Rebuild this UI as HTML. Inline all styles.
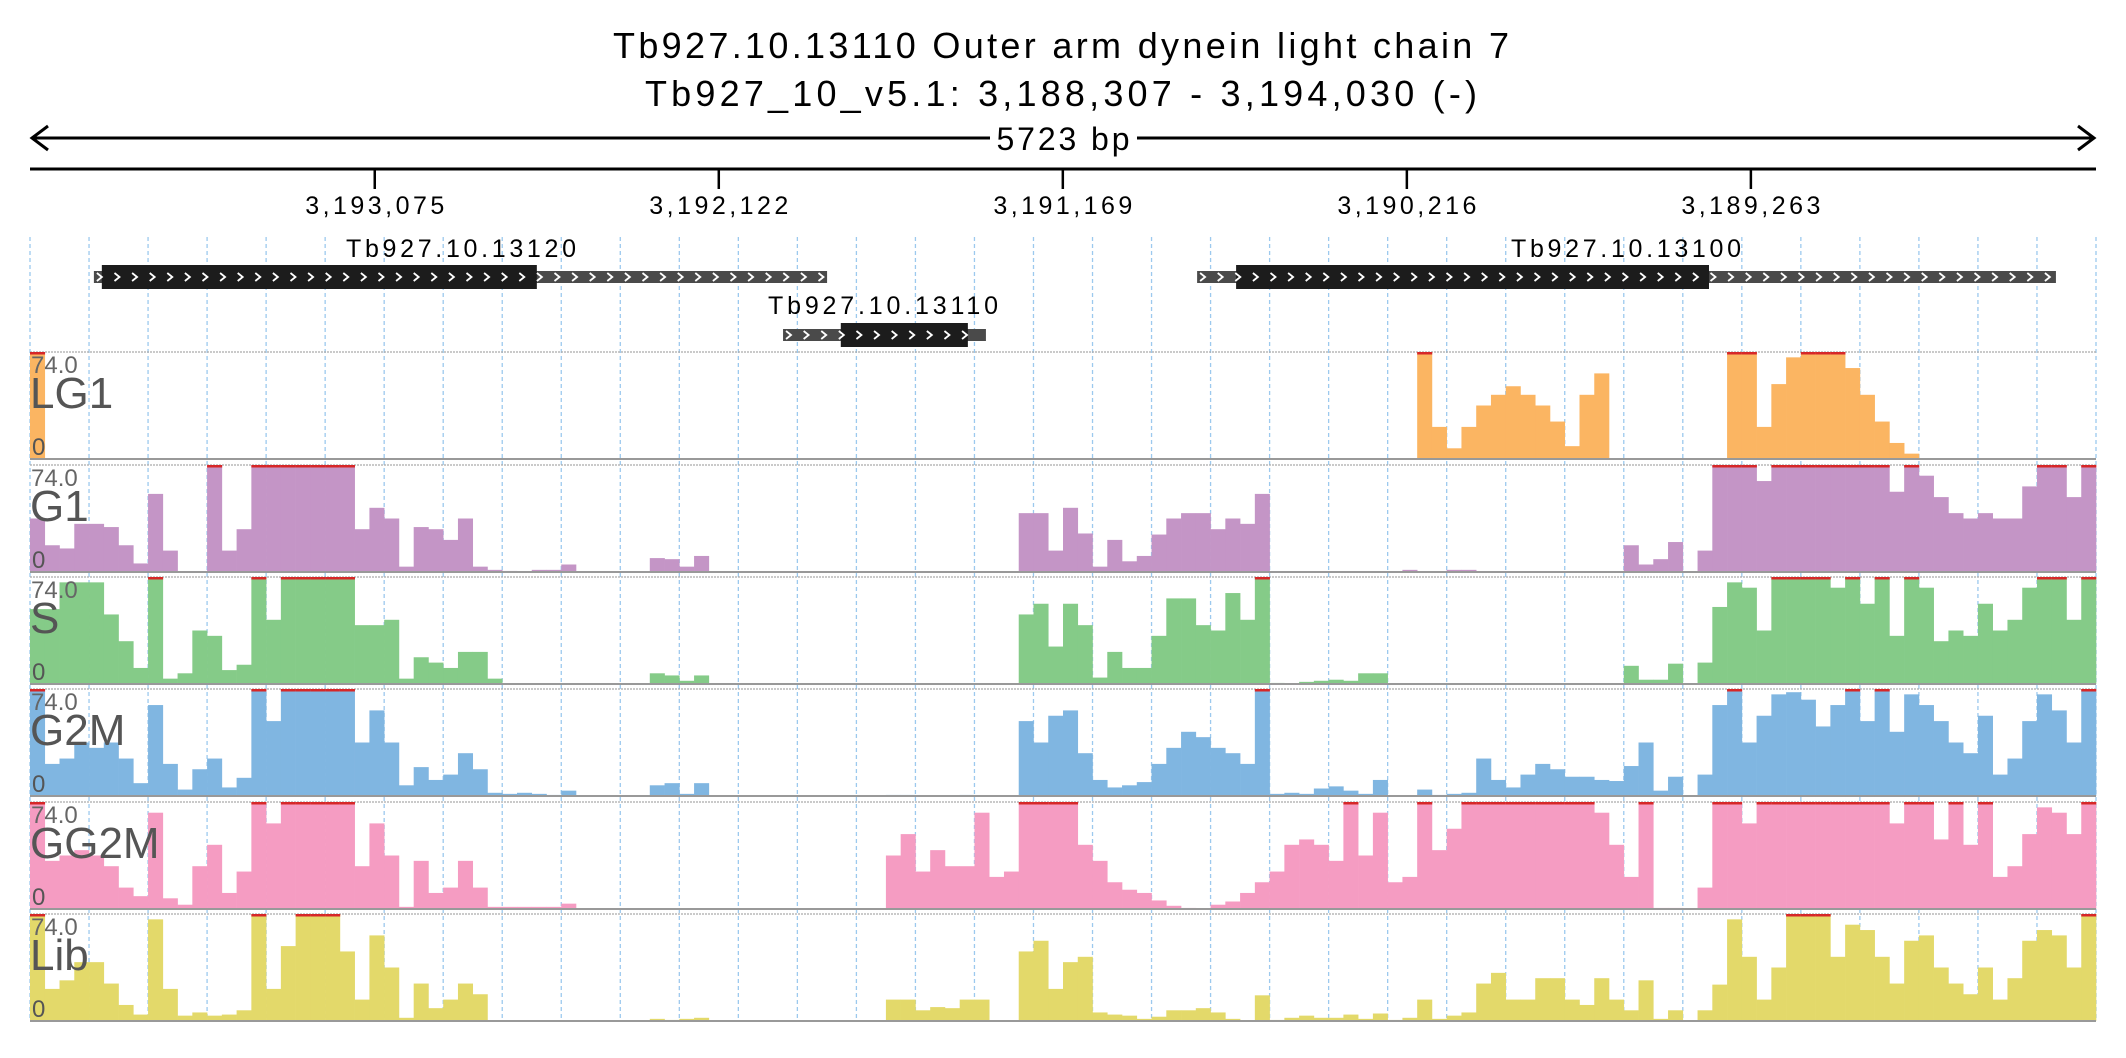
<!DOCTYPE html>
<html><head><meta charset="utf-8"><style>
html,body{margin:0;padding:0;background:#fff;}
svg{display:block;font-family:"Liberation Sans",sans-serif;}
</style></head><body>
<svg id="chart" width="2126" height="1058" viewBox="0 0 2126 1058">
<text x="1061" y="58" font-size="36" text-anchor="middle" textLength="896">Tb927.10.13110  Outer arm dynein light chain 7</text>
<text x="1061" y="106" font-size="36" text-anchor="middle" textLength="832">Tb927_10_v5.1: 3,188,307 - 3,194,030 (-)</text>
<g>
<line x1="32" y1="138" x2="990" y2="138" stroke="#000" stroke-width="3"/>
<line x1="1137" y1="138" x2="2094" y2="138" stroke="#000" stroke-width="3"/>
<polyline points="48,126 32,138 48,150" fill="none" stroke="#000" stroke-width="3"/>
<polyline points="2078,126 2094,138 2078,150" fill="none" stroke="#000" stroke-width="3"/>
<text x="1063" y="150" font-size="32" text-anchor="middle" textLength="133">5723 bp</text>
</g>
<line x1="30" y1="169" x2="2096" y2="169" stroke="#000" stroke-width="3"/>
<g id="ticks"></g>
<g id="grid"></g>
<g id="genes"></g>
<g id="tracks"></g>
</svg>
<script>
const startBp = 3194030;
const spanBp = 5723;
const tickValues = [3193075, 3192122, 3191169, 3190216, 3189263];
const tickLabels = ["3,193,075", "3,192,122", "3,191,169", "3,190,216", "3,189,263"];
const geneNames = ["Tb927.10.13120", "Tb927.10.13110", "Tb927.10.13100"];
const geneStart = [3193853, 3191944, 3190797];
const geneEnd = [3191822, 3191382, 3188418];
const cdsStart = [3193831, 3191784, 3190689];
const cdsEnd = [3192626, 3191432, 3189379];
const geneRow = [0, 1, 0];
const trackNames = ["LG1", "G1", "S", "G2M", "GG2M", "Lib"];
const yMaxLabel = "74.0";
const lg1 = [1,0,0,0, 0,0,0,0, 0,0,0,0, 0,0,0,0, 0,0,0,0, 0,0,0,0, 0,0,0,0, 0,0,0,0, 0,0,0,0, 0,0,0,0, 0,0,0,0, 0,0,0,0,
 0,0,0,0, 0,0,0,0, 0,0,0,0, 0,0,0,0, 0,0,0,0, 0,0,0,0, 0,0,0,0, 0,0,0,0, 0,0,0,0, 0,0,0,0, 0,0,0,0, 0,0,1,0.3,
 0.1,0.3,0.5,0.6, 0.68,0.6,0.5,0.35, 0.12,0.6,0.8,0, 0,0,0,0, 0,0,0,1, 1,0.3,0.7,0.95, 1,1,1,0.85, 0.6,0.35,0.15,0.05, 0,0,0,0, 0,0,0,0, 0,0,0,0];
const g1 = [0.5,0.25,0.22,0.45, 0.45,0.42,0.25,0.08, 0.73,0.2,0,0, 1,0.2,0.4,1, 1,1,1,1, 1,1,0.4,0.6, 0.5,0.05,0.42,0.4, 0.3,0.5,0.05,0.02,
 0.01,0,0.02,0.02, 0.07,0,0,0, 0,0,0.13,0.12, 0.05,0.15,0,0, 0,0,0,0, 0,0,0,0, 0,0,0,0, 0,0,0,0, 0,0,0,0.55, 0.55,0.2,0.6,0.36,
 0.05,0.3,0.1,0.15, 0.35,0.5,0.55,0.55, 0.4,0.5,0.45,0.73, 0,0,0,0, 0,0,0,0, 0,0.02,0,0, 0.02,0.02,0,0, 0,0,0,0, 0,0,0,0,
 0.25,0.07,0.12,0.28, 0,0.2,1,1, 1,0.85,1,1, 1,1,1,1, 1,1,0.75,1, 0.9,0.7,0.55,0.5, 0.55,0.5,0.5,0.8, 1,1,0.7,1];
const sPhase = [0.7,0.7,0.95,0.95, 0.95,0.65,0.4,0.15, 1,0.05,0.1,0.5, 0.45,0.13,0.18,1, 0.6,1,1,1, 1,1,0.55,0.55, 0.6,0.05,0.25,0.2, 0.15,0.3,0.3,0.05,
 0,0,0,0, 0,0,0,0, 0,0,0.1,0.08, 0.03,0.08,0,0, 0,0,0,0, 0,0,0,0, 0,0,0,0, 0,0,0,0, 0,0,0,0.65, 0.75,0.35,0.75,0.55,
 0.06,0.3,0.15,0.15, 0.45,0.8,0.8,0.55, 0.5,0.85,0.6,1, 0.01,0,0.02,0.03, 0.04,0.03,0.1,0.1, 0,0,0,0, 0,0,0,0, 0,0,0,0, 0,0,0,0,
 0.17,0.04,0.04,0.19, 0,0.2,0.72,0.95, 0.9,0.5,1,1, 1,1,0.9,1, 0.75,1,0.45,1, 0.9,0.4,0.5,0.45, 0.75,0.5,0.6,0.9, 1,1,0.6,1];
const g2m = [1,0.3,0.35,0.5, 0.45,0.5,0.35,0.12, 0.85,0.3,0.06,0.25, 0.35,0.08,0.17,1, 0.7,1,1,1, 1,1,0.5,0.8, 0.5,0.1,0.27,0.15, 0.2,0.4,0.25,0.03,
 0.02,0.03,0.02,0.01, 0.05,0,0,0, 0,0,0.1,0.12, 0.02,0.12,0,0, 0,0,0,0, 0,0,0,0, 0,0,0.01,0.01, 0,0,0,0.01, 0,0,0,0.7, 0.5,0.75,0.8,0.4,
 0.15,0.08,0.1,0.13, 0.3,0.45,0.6,0.55, 0.45,0.4,0.3,1, 0.02,0.03,0.02,0.07, 0.09,0.05,0.02,0.15, 0,0,0.06,0.01, 0.02,0.03,0.35,0.15, 0.08,0.2,0.3,0.25, 0.18,0.18,0.15,0.14,
 0.28,0.5,0.05,0.18, 0,0.2,0.85,1, 0.5,0.75,0.95,0.97, 0.9,0.65,0.85,1, 0.7,1,0.6,0.95, 0.85,0.7,0.5,0.4, 0.75,0.2,0.35,0.7, 0.95,0.8,0.5,1];
const gg2m = [1,0.45,0.5,0.55, 0.5,0.4,0.2,0.12, 0.9,0.1,0.04,0.4, 0.6,0.15,0.35,1, 0.8,1,1,1, 1,1,0.4,0.8, 0.5,0.02,0.45,0.15, 0.2,0.45,0.2,0.02,
 0.02,0.02,0.02,0.02, 0.05,0,0,0, 0,0,0,0, 0,0,0,0, 0,0,0,0, 0,0,0,0, 0,0,0.5,0.7, 0.35,0.55,0.4,0.4, 0.9,0.3,0.35,1, 1,1,1,0.6,
 0.45,0.25,0.18,0.15, 0.08,0.03,0.01,0, 0.04,0.07,0.15,0.25, 0.35,0.6,0.65,0.6, 0.45,1,0.5,0.9, 0.25,0.3,1,0.55, 0.75,1,1,1, 1,1,1,1, 1,1,0.9,0.6,
 0.3,1,0.01,0.01, 0,0.2,1,1, 0.8,1,1,1, 1,1,1,1, 1,1,0.8,1, 1,0.65,1,0.6, 1,0.3,0.4,0.7, 0.95,0.9,0.7,1];
const lib = [1,0.3,0.38,0.55, 0.55,0.35,0.15,0.06, 0.95,0.3,0.05,0.08, 0.05,0.06,0.1,1, 0.3,0.7,1,1, 1,0.65,0.2,0.8, 0.5,0.03,0.35,0.12, 0.2,0.35,0.25,0,
 0,0,0,0, 0,0,0,0, 0,0,0.02,0.01, 0.02,0.03,0,0, 0,0,0,0, 0,0,0,0, 0,0,0.2,0.2, 0.1,0.13,0.12,0.2, 0.2,0,0,0.65, 0.75,0.3,0.55,0.6,
 0.08,0.06,0.05,0.02, 0.04,0.1,0.1,0.12, 0.08,0.02,0,0.24, 0.01,0.03,0.05,0.03, 0.03,0.06,0.02,0.07, 0.01,0.03,0.2,0.02, 0.05,0.08,0.35,0.45, 0.2,0.2,0.4,0.4, 0.2,0.15,0.4,0.2,
 0.1,0.38,0.02,0.1, 0,0.1,0.34,0.95, 0.6,0.2,0.5,1, 1,1,0.6,0.9, 0.85,0.6,0.35,0.75, 0.8,0.5,0.35,0.25, 0.5,0.2,0.4,0.75, 0.85,0.8,0.5,1];

const NS = "http://www.w3.org/2000/svg";
const X0 = 30, X1 = 2096;
const NBINS = 140;
function xScale(bp){ return X0 + (startBp - bp) / spanBp * (X1 - X0); }
function mk(tag, attrs, parent){ const e = document.createElementNS(NS, tag); for (const k in attrs) e.setAttribute(k, attrs[k]); parent.appendChild(e); return e; }

const tg = document.getElementById("ticks");
tickValues.forEach((v, i) => {
  const x = xScale(v);
  const l = mk("line", {x1:x, y1:169, x2:x, y2:189, stroke:"#000", "stroke-width":2.5}, tg);
  
  
  const t = mk("text", {x:x, y:214, "font-size":25, "text-anchor":"middle", textLength:139}, tg);
  t.textContent = tickLabels[i];
  
  
});

const gg = document.getElementById("grid");
for (let k = 0; k <= 35; k++) {
  const x = X0 + k * (X1 - X0) / 35;
  const l = mk("line", {x1:x, y1:237, x2:x, y2:1019, stroke:"#9cc9ee", "stroke-width":1.3, "stroke-dasharray":"4,3"}, gg);
  
  
}

const genesG = document.getElementById("genes");
const rowY = [277, 335];
const rowLabelY = [257, 314];
const labelCenters = [461, 883, 1626];
geneNames.forEach((name, i) => {
  const g = mk("g", {}, genesG);
  
  
  const cy = rowY[geneRow[i]];
  const xs = xScale(geneStart[i]), xe = xScale(geneEnd[i]);
  const cs = xScale(cdsStart[i]), ce = xScale(cdsEnd[i]);
  const utr = mk("rect", {x:xs, y:cy-6, width:xe-xs, height:12, fill:"#4a4a4a"}, g);
  
  
  const cds = mk("rect", {x:cs, y:cy-12, width:ce-cs, height:24, fill:"#1c1c1c"}, g);
  
  
  for (let x = xs + 3; x < xe - 8; x += 17.6) {
    const c = mk("polyline", {points:(x)+","+(cy-4)+" "+(x+5)+","+cy+" "+(x)+","+(cy+4), fill:"none", stroke:"#fff", "stroke-width":1.8}, g);
    
    
  }
  const lab = mk("text", {x:labelCenters[i], y:rowLabelY[geneRow[i]], "font-size":25, "text-anchor":"middle", textLength:230}, g);
  lab.textContent = name;
  
  
});

const series = [lg1, g1, sPhase, g2m, gg2m, lib];
const colors = ["#fbb562", "#c495c6", "#85cb88", "#80b6e1", "#f59cc2", "#e3d96a"];
const tops = [352, 465, 577, 689, 802, 914];
const H = 107;
const tracksG = document.getElementById("tracks");
series.forEach((vals, ti) => {
  const g = mk("g", {}, tracksG);
  
  
  const top = tops[ti], bot = top + H;
  const bw = (X1 - X0) / NBINS;
  function yScale(v){ return bot - Math.min(v, 1) * H; }
  const topLine = mk("line", {x1:X0, y1:top, x2:X1, y2:top, stroke:"#aaa", "stroke-width":1.2, "stroke-dasharray":"2,1"}, g);
  
  
  vals.forEach((v, i) => {
    if (v <= 0) return;
    const x = X0 + i * bw;
    const y = yScale(v);
    const r = mk("rect", {x:x, y:y, width:bw+0.3, height:bot-y, fill:colors[ti]}, g);
    
    
    if (v >= 1) {
      const c = mk("rect", {x:x, y:top, width:bw+0.3, height:2.5, fill:"#d62728"}, g);
      
      
    }
  });
  const base = mk("line", {x1:X0, y1:bot, x2:X1, y2:bot, stroke:"#999", "stroke-width":2}, g);
  
  
  const mx = mk("text", {x:31, y:top+21, "font-size":24, fill:"#666"}, g);
  mx.textContent = yMaxLabel;
  
  
  const nm = mk("text", {x:30, y:top+56, "font-size":44, fill:"#555"}, g);
  nm.textContent = trackNames[ti];
  
  
  const z = mk("text", {x:32, y:bot-4, "font-size":24, fill:"#555"}, g);
  z.textContent = "0";
  
  
});
</script>
</body></html>
